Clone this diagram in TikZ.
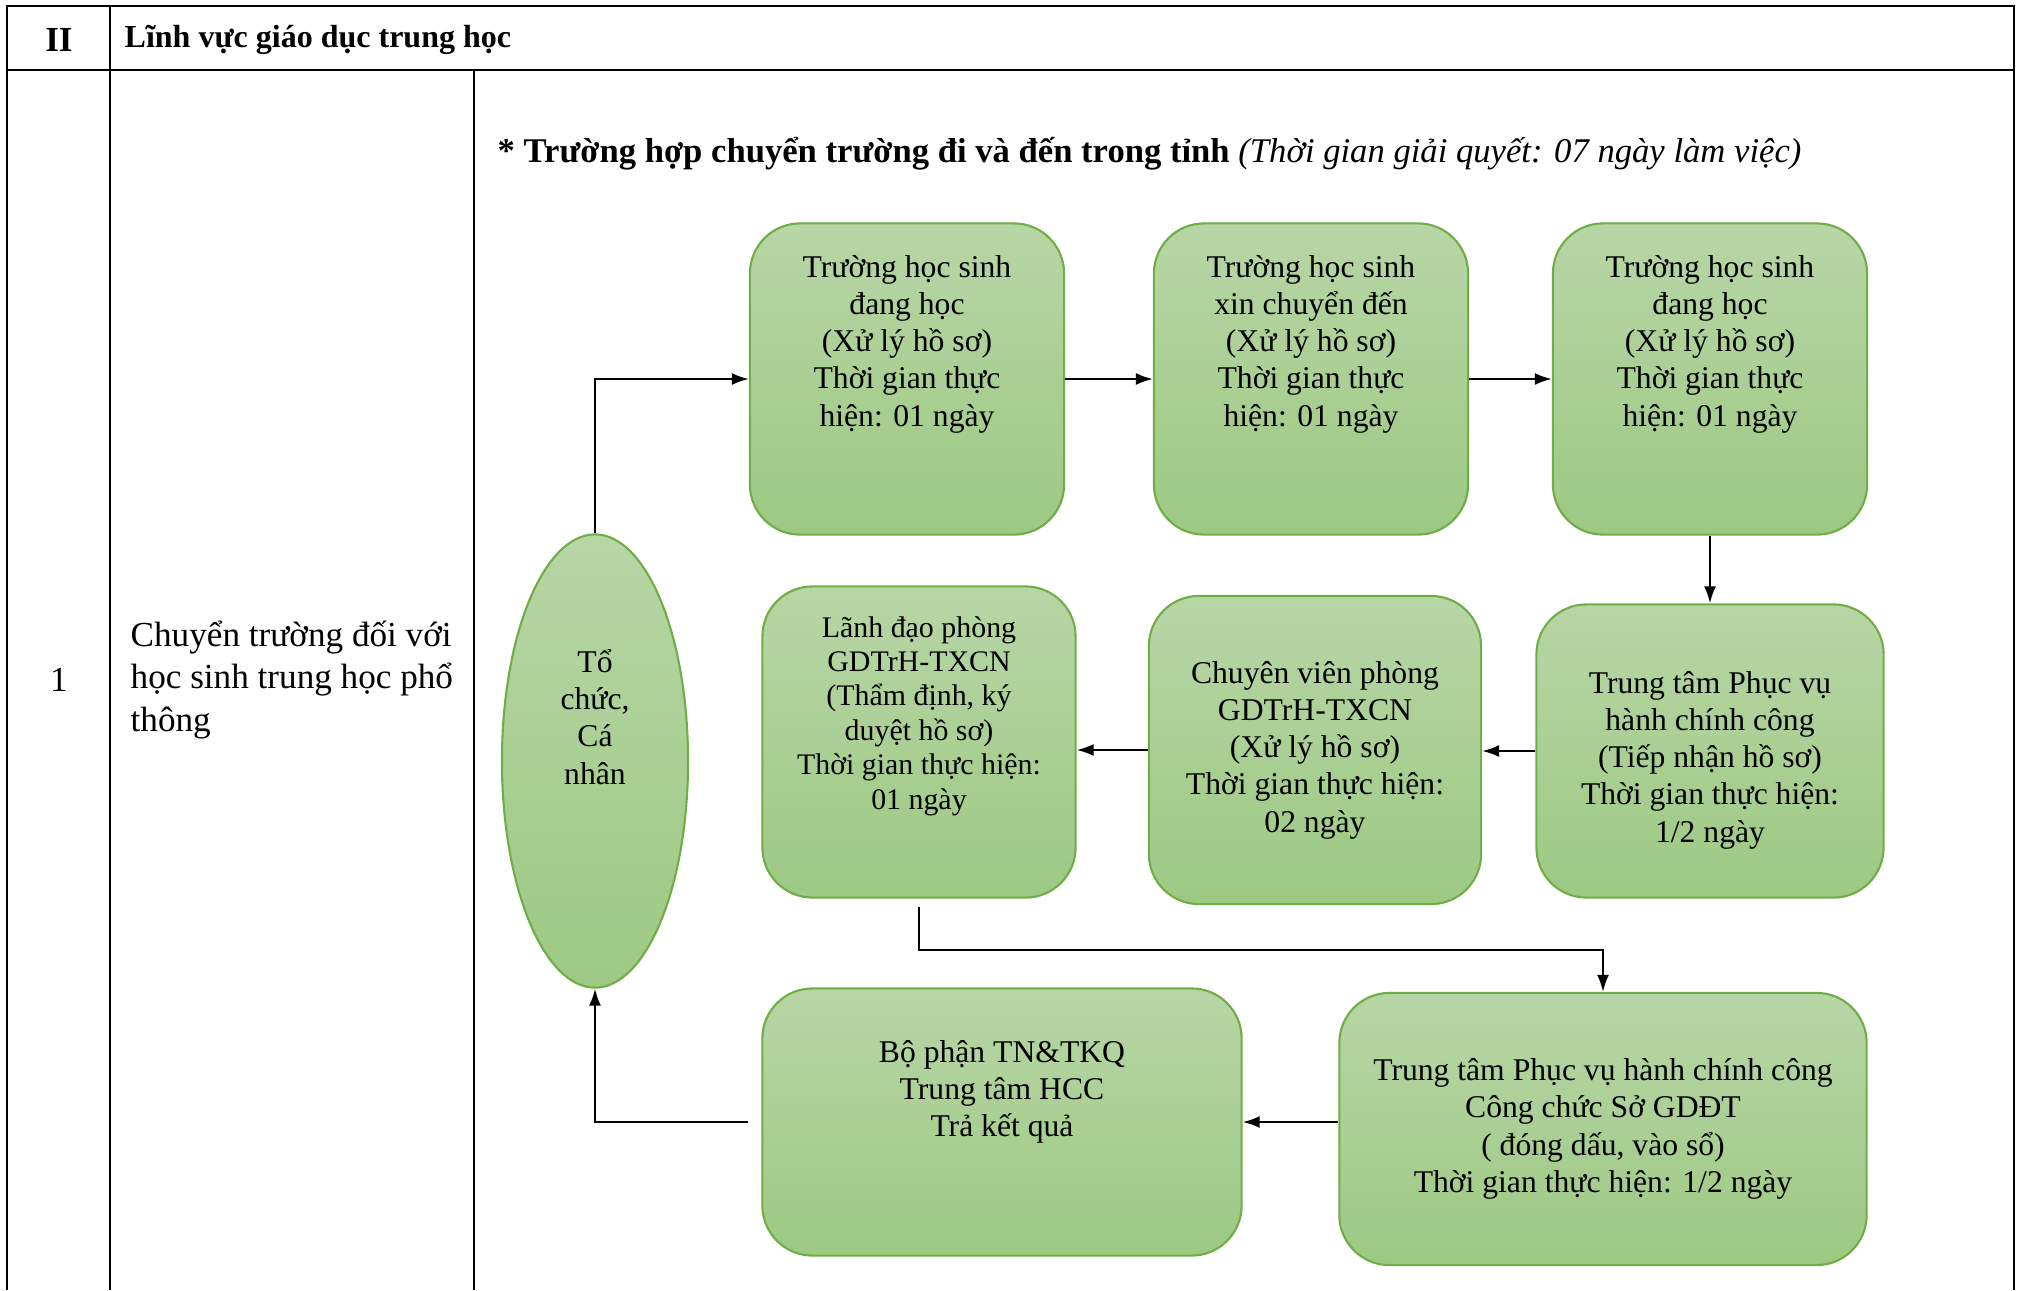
\documentclass[tikz,border=0pt]{standalone}
\usepackage{fontspec}
\setmainfont{Liberation Serif}
\usetikzlibrary{arrows.meta,shapes.geometric,positioning}
\definecolor{boxtop}{RGB}{183,214,166}
\definecolor{boxbot}{RGB}{157,201,131}
\definecolor{boxline}{RGB}{112,173,71}
\begin{document}
\begin{tikzpicture}[x=0.01cm,y=-0.01cm,
  procbox/.style={draw=boxline,line width=0.6pt,rounded corners=0.5cm,top color=boxtop,bottom color=boxbot,inner sep=0pt},
  actor/.style={ellipse,draw=boxline,line width=0.6pt,top color=boxtop,bottom color=boxbot,inner sep=0pt,minimum width=1.86cm,minimum height=4.53cm},
  boxtext/.style={align=center,font=\fontsize{9}{10.6}\selectfont,inner sep=0pt},
  flow/.style={-{Latex[length=1.7mm,width=1.2mm]},line width=0.6pt},
  grid/.style={line width=0.7pt}]
\useasboundingbox (0,0) rectangle (2020,1290);
% table frame
\draw[grid] (7,1290) -- (7,6) -- (2014,6) -- (2014,1290);
\draw[grid] (7,70) -- (2014,70);
\draw[grid] (110,6) -- (110,1290);
\draw[grid] (474,70) -- (474,1290);
\node[font=\fontsize{10}{12}\selectfont\bfseries] (sec) at (59,40) {II};
\node[anchor=west,inner sep=0pt,font=\fontsize{9.1}{11}\selectfont\bfseries] (field) at (124,40) {Lĩnh vực giáo dục trung học};
\node[font=\fontsize{10}{12}\selectfont] (num) at (59,680) {1};
\node[anchor=west,inner sep=0pt,align=left,font=\fontsize{10}{12.1}\selectfont] (proc) at (130,680) {Chuyển trường đối với\\học sinh trung học phổ\\thông};
\node[anchor=west,inner sep=0pt,font=\fontsize{9.85}{12}\selectfont] (title) at (497,154) {\textbf{* Trường hợp chuyển trường đi và đến trong tỉnh} \textit{(Thời gian giải quyết: 07 ngày làm việc)}};
% boxes
\node[actor] (org) at (595,761) {};
\node[procbox,minimum width=3.14cm,minimum height=3.11cm] (a1) at (907,379) {};
\node[procbox,minimum width=3.14cm,minimum height=3.11cm] (a2) at (1311,379) {};
\node[procbox,minimum width=3.14cm,minimum height=3.11cm] (a3) at (1710,379) {};
\node[procbox,minimum width=3.13cm,minimum height=3.11cm] (b1) at (919,742) {};
\node[procbox,minimum width=3.32cm,minimum height=3.08cm] (b2) at (1315,750) {};
\node[procbox,minimum width=3.47cm,minimum height=2.93cm] (b3) at (1710,751) {};
\node[procbox,minimum width=4.79cm,minimum height=2.67cm] (c1) at (1002,1122) {};
\node[procbox,minimum width=5.27cm,minimum height=2.72cm] (c2) at (1603,1129) {};
% texts
\node[boxtext] (orgt) at ([yshift=0.44cm]org.center) {Tổ\\chức,\\Cá\\nhân};
\node[boxtext] (a1t) at ([yshift=0.35cm]a1.center) {Trường học sinh\\đang học\\(Xử lý hồ sơ)\\Thời gian thực\\hiện: 01 ngày};
\node[boxtext] (a2t) at ([yshift=0.35cm]a2.center) {Trường học sinh\\xin chuyển đến\\(Xử lý hồ sơ)\\Thời gian thực\\hiện: 01 ngày};
\node[boxtext] (a3t) at ([yshift=0.35cm]a3.center) {Trường học sinh\\đang học\\(Xử lý hồ sơ)\\Thời gian thực\\hiện: 01 ngày};
\node[boxtext,font=\fontsize{8.5}{9.8}\selectfont] (b1t) at ([yshift=0.26cm]b1.center) {Lãnh đạo phòng\\GDTrH-TXCN\\(Thẩm định, ký\\duyệt hồ sơ)\\Thời gian thực hiện:\\01 ngày};
\node[boxtext] (b2t) at (b2.center) {Chuyên viên phòng\\GDTrH-TXCN\\(Xử lý hồ sơ)\\Thời gian thực hiện:\\02 ngày};
\node[boxtext] (b3t) at ([yshift=-0.09cm]b3.center) {Trung tâm Phục vụ\\hành chính công\\(Tiếp nhận hồ sơ)\\Thời gian thực hiện:\\1/2 ngày};
\node[boxtext] (c1t) at ([yshift=0.30cm]c1.center) {Bộ phận TN\&TKQ\\Trung tâm HCC\\Trả kết quả};
\node[boxtext] (c2t) at (c2.center) {Trung tâm Phục vụ hành chính công\\Công chức Sở GDĐT\\( đóng dấu, vào sổ)\\Thời gian thực hiện: 1/2 ngày};
% connectors
\draw[flow] (org.north) |- (a1.west);
\draw[flow] (a1.east) -- (a2.west);
\draw[flow] (a2.east) -- (a3.west);
\draw[flow] (a3.south) -- (a3.south |- b3.north);
\draw[flow] (b3.west) -- (b3.west -| b2.east);
\draw[flow] (b2.west) -- (b2.west -| b1.east);
\draw[flow] ([yshift=-0.08cm]b1.south) -- ++(0,43) -| (c2.north);
\draw[flow] (c2.west |- c1.east) -- (c1.east);
\draw[flow] ([xshift=-0.13cm]c1.west) -| (org.south);
\end{tikzpicture}
\end{document}
